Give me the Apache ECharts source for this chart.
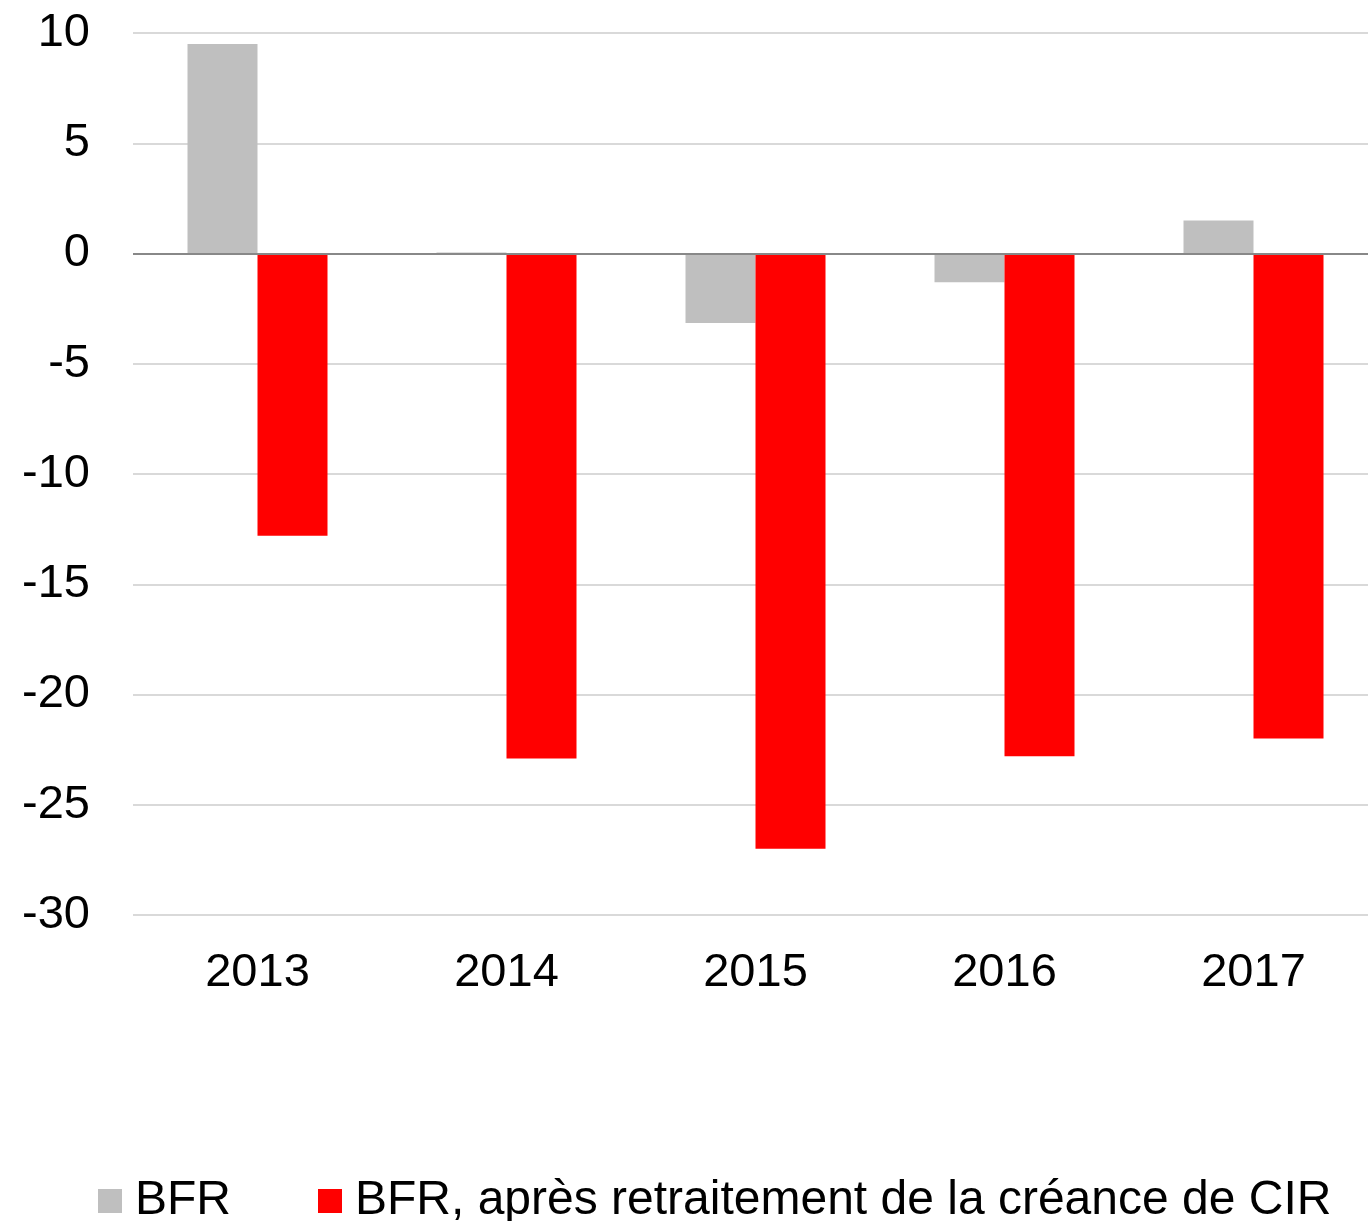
<!DOCTYPE html>
<html><head><meta charset="utf-8">
<script src="https://cdn.jsdelivr.net/npm/echarts@6/dist/echarts.min.js"></script>
<style>html,body{margin:0;padding:0;background:#fff;overflow:hidden}#c{width:1378px;height:1221px}</style>
</head><body><div id="c"></div>
<script>
var categories = ['2013', '2014', '2015', '2016', '2017'];
var bfr = [9.5, 0.05, -3.15, -1.3, 1.5];
var bfrApres = [-12.8, -22.9, -27.0, -22.8, -22.0];
var seriesNames = ['BFR', 'BFR, après retraitement de la créance de CIR'];
var yMin = -30, yMax = 10, yStep = 5;

var chart = echarts.init(document.getElementById('c'));
var font = 'Liberation Sans, Arial, sans-serif';
chart.setOption({
  animation: false,
  grid: { left: 133, right: 0, top: 33, bottom: 306, containLabel: false },
  legend: {
    left: 98, top: 1177, padding: 0,
    itemWidth: 24, itemHeight: 24, itemGap: 87,
    icon: 'rect',
    textStyle: { fontFamily: font, fontSize: 48, color: '#000', padding: [0, 0, 0, 8] },
    data: seriesNames
  },
  xAxis: {
    type: 'category', data: categories,
    axisLine: { show: false, onZero: false },
    axisTick: { show: false },
    axisLabel: { fontFamily: font, fontSize: 47, color: '#000', margin: 35 }
  },
  yAxis: {
    type: 'value', min: yMin, max: yMax, interval: yStep,
    axisLine: { show: false }, axisTick: { show: false },
    splitLine: { lineStyle: { color: '#d9d9d9', width: 2 } },
    axisLabel: { fontFamily: font, fontSize: 47, color: '#000', margin: 43 }
  },
  series: [
    { name: seriesNames[0], type: 'bar', data: bfr, barWidth: 70, barGap: '0%',
      itemStyle: { color: '#bfbfbf' } },
    { name: seriesNames[1], type: 'bar', data: bfrApres, barWidth: 70, barGap: '0%',
      itemStyle: { color: '#ff0000' },
      markLine: { silent: true, symbol: 'none', label: { show: false },
        lineStyle: { color: '#888888', width: 2, type: 'solid' },
        data: [{ yAxis: 0 }] } }
  ]
});
</script></body></html>
